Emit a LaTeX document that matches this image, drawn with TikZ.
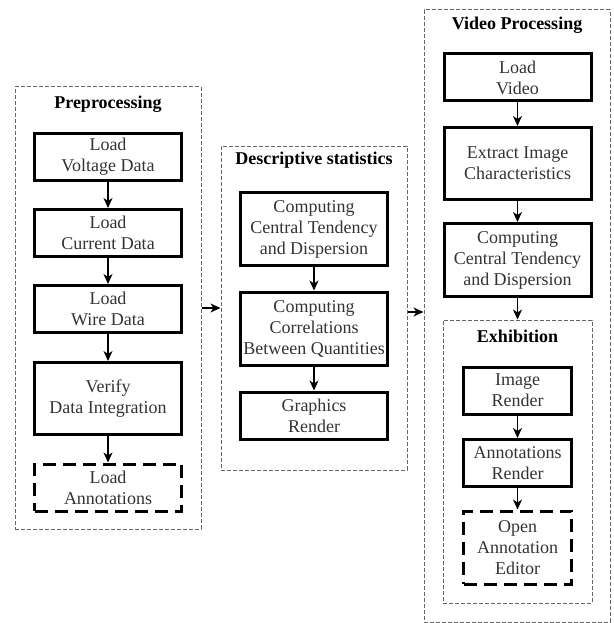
\documentclass[tikz,border=0pt]{standalone}
\usepackage{fontspec}
\setmainfont{Liberation Serif}
\usetikzlibrary{arrows.meta}

\newcommand{\figfont}{\fontsize{18}{21}\selectfont}

\tikzset{
  proc/.style={draw, line width=3pt, align=center, inner sep=2pt,
    minimum width=147pt, minimum height=47pt, font=\figfont, text=black!80},
  procdash/.style={proc, dash pattern=on 13pt off 7pt},
  grp/.style={draw=black!60, line width=1pt, dash pattern=on 4pt off 2pt, inner sep=0pt},
  grptitle/.style={font=\figfont\bfseries},
  flow/.style={->, line width=1.2pt},
}

\begin{document}
\begin{tikzpicture}[x=1pt, y=-1pt, >={Stealth[length=10pt, width=9pt, inset=3pt]}]
  \useasboundingbox (0,0) rectangle (613,623);
  % Preprocessing
  \node[grp, minimum width=186pt, minimum height=442pt] (pre) at (108,308) {};
  \node[grptitle] (pretitle) at (108,104) {Preprocessing};
  \node[proc] (volt) at (108,157) {Load\\Voltage Data};
  \node[proc] (curr) at (108,233) {Load\\Current Data};
  \node[proc] (wire) at (108,309) {Load\\Wire Data};
  \node[proc, minimum height=72pt] (verify) at (108,398.5) {Verify\\Data Integration};
  \node[procdash] (annot) at (108,487.5) {Load\\Annotations};
  \draw[flow] (volt) -- (curr);
  \draw[flow] (curr) -- (wire);
  \draw[flow] (wire) -- (verify);
  \draw[flow] (verify) -- (annot);
  % Descriptive statistics
  \node[grp, minimum width=186pt, minimum height=324pt] (desc) at (314,308) {};
  \node[grptitle] (desctitle) at (314,160) {Descriptive statistics};
  \node[proc, minimum height=73pt] (ctd) at (314,229) {Computing\\Central Tendency\\and Dispersion};
  \node[proc, minimum height=73pt] (corr) at (314,328.5) {Computing\\Correlations\\Between Quantities};
  \node[proc] (graph) at (314,415.5) {Graphics\\Render};
  \draw[flow] (ctd) -- (corr);
  \draw[flow] (corr) -- (graph);
  % Video Processing
  \node[grp, minimum width=186pt, minimum height=612pt] (vid) at (517,316) {};
  \node[grptitle] (vidtitle) at (517,25) {Video Processing};
  \node[proc] (video) at (517.5,77.5) {Load\\Video};
  \node[proc, minimum height=72pt] (extract) at (517.5,163.5) {Extract Image\\Characteristics};
  \node[proc, minimum height=73pt] (vctd) at (517.5,260) {Computing\\Central Tendency\\and Dispersion};
  \draw[flow] (video) -- (extract);
  \draw[flow] (extract) -- (vctd);
  % Exhibition
  \node[grp, minimum width=149pt, minimum height=283pt] (exh) at (517.5,461.5) {};
  \node[grptitle] (exhtitle) at (517.5,336) {Exhibition};
  \node[proc, minimum width=108pt] (imgr) at (517.5,390.5) {Image\\Render};
  \node[proc, minimum width=108pt] (annr) at (517.5,463) {Annotations\\Render};
  \node[procdash, minimum width=108pt, minimum height=73pt] (editor) at (517.5,547.5) {Open\\Annotation\\Editor};
  \draw[flow] (vctd) -- (exh);
  \draw[flow] (imgr) -- (annr);
  \draw[flow] (annr) -- (editor);
  % between groups
  \draw[flow] (pre.east) -- (desc.west);
  \draw[flow] ([yshift=-4pt]desc.east) -- ([yshift=-4pt]desc.east -| vid.west);
\end{tikzpicture}
\end{document}
